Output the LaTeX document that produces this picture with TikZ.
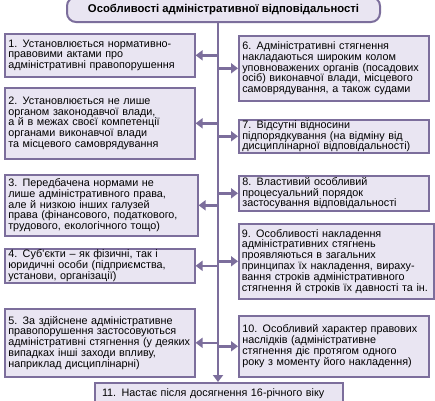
\documentclass[tikz,border=0pt]{standalone}
\usepackage{fontspec}
\setmainfont{Liberation Sans}
\usetikzlibrary{arrows.meta}
\definecolor{frame}{RGB}{124,110,156}
\definecolor{boxfill}{RGB}{233,229,242}
\setlength{\lineskiplimit}{-20pt}
\begin{document}
\begin{tikzpicture}[x=1pt,y=-1pt,
  box/.style={draw=frame, line width=1.6pt, fill=boxfill, anchor=north west,
    text width=183pt, inner xsep=3.5pt, inner ysep=0pt, align=left,
    font=\fontsize{10.8}{10.8}\selectfont},
  arr/.style={draw=frame, line width=2.6pt, -{Triangle[width=10pt,length=7pt]}}]
\clip (0,0) rectangle (435,400);
\fill[white] (0,0) rectangle (435,400);
\coordinate (spine) at (218,0);
\node[draw=frame, line width=2pt, fill=boxfill, rounded corners=9pt,
  minimum width=313pt, minimum height=25pt,
  font=\bfseries\fontsize{11.3}{12}\selectfont] (title) at (223.5,9.5)
  {Особливості адміністративної відповідальності};
% left column
\node[box, minimum height=43pt] (b1) at (4,33)
  {1. Установлюється нормативно-\\правовими актами про\\адміністративні правопорушення};
\node[box, minimum height=71pt] (b2) at (4,87)
  {2. Установлюється не лише\\органом законодавчої влади,\\а й в межах своєї компетенції\\органами виконавчої влади\\та місцевого самоврядування};
\node[box, minimum height=61pt, text width=186pt] (b3) at (4,174)
  {3. Передбачена нормами не\\лише адміністративного права,\\але й низкою інших галузей\\права (фінансового, податкового,\\трудового, екологічного тощо)};
\node[box, minimum height=34pt] (b4) at (4,248)
  {4. Суб’єкти – як фізичні, так і\\юридичні особи (підприємства,\\установи, організації)};
\node[box, minimum height=68pt] (b5) at (4,308)
  {5. За здійснене адміністративне\\правопорушення застосовуються\\адміністративні стягнення (у деяких\\випадках інші заходи впливу,\\наприклад дисциплінарні)};
% right column
\node[box, minimum height=65pt] (b6) at (238,35)
  {6. Адміністративні стягнення\\накладаються широким колом\\уповноважених органів (посадових\\осіб) виконавчої влади, місцевого\\самоврядування, а також судами};
\node[box, minimum height=33pt] (b7) at (238,119)
  {7. Відсутні відносини\\підпорядкування (на відміну від\\дисциплінарної відповідальності)};
\node[box, minimum height=35pt] (b8) at (238,175)
  {8. Властивий особливий\\процесуальний порядок\\застосування відповідальності};
\node[box, minimum height=75pt, text width=189pt, inner xsep=3pt] (b9) at (238,223)
  {9. Особливості накладення\\адміністративних стягнень\\проявляються в загальних\\принципах їх накладення, вираху-\\вання строків адміністративного\\стягнення й строків їх давності та ін.};
\node[box, minimum height=61pt] (b10) at (238,315)
  {10. Особливий характер правових\\наслідків (адміністративне\\стягнення діє протягом одного\\року з моменту його накладення)};
% bottom
\node[box, anchor=north, text width=234pt, inner xsep=7pt, minimum height=22pt] (b11) at (219,382)
  {11. Настає після досягнення 16-річного віку};
% connectors
\draw[arr] (spine |- title.south) -- (spine |- b11.north);
\foreach \b in {b1,b2,b3,b4,b5}
  \draw[arr] (spine |- \b.east) -- (\b.east);
\foreach \b in {b6,b7,b8,b9,b10}
  \draw[arr] (spine |- \b.west) -- (\b.west);
\end{tikzpicture}
\end{document}
